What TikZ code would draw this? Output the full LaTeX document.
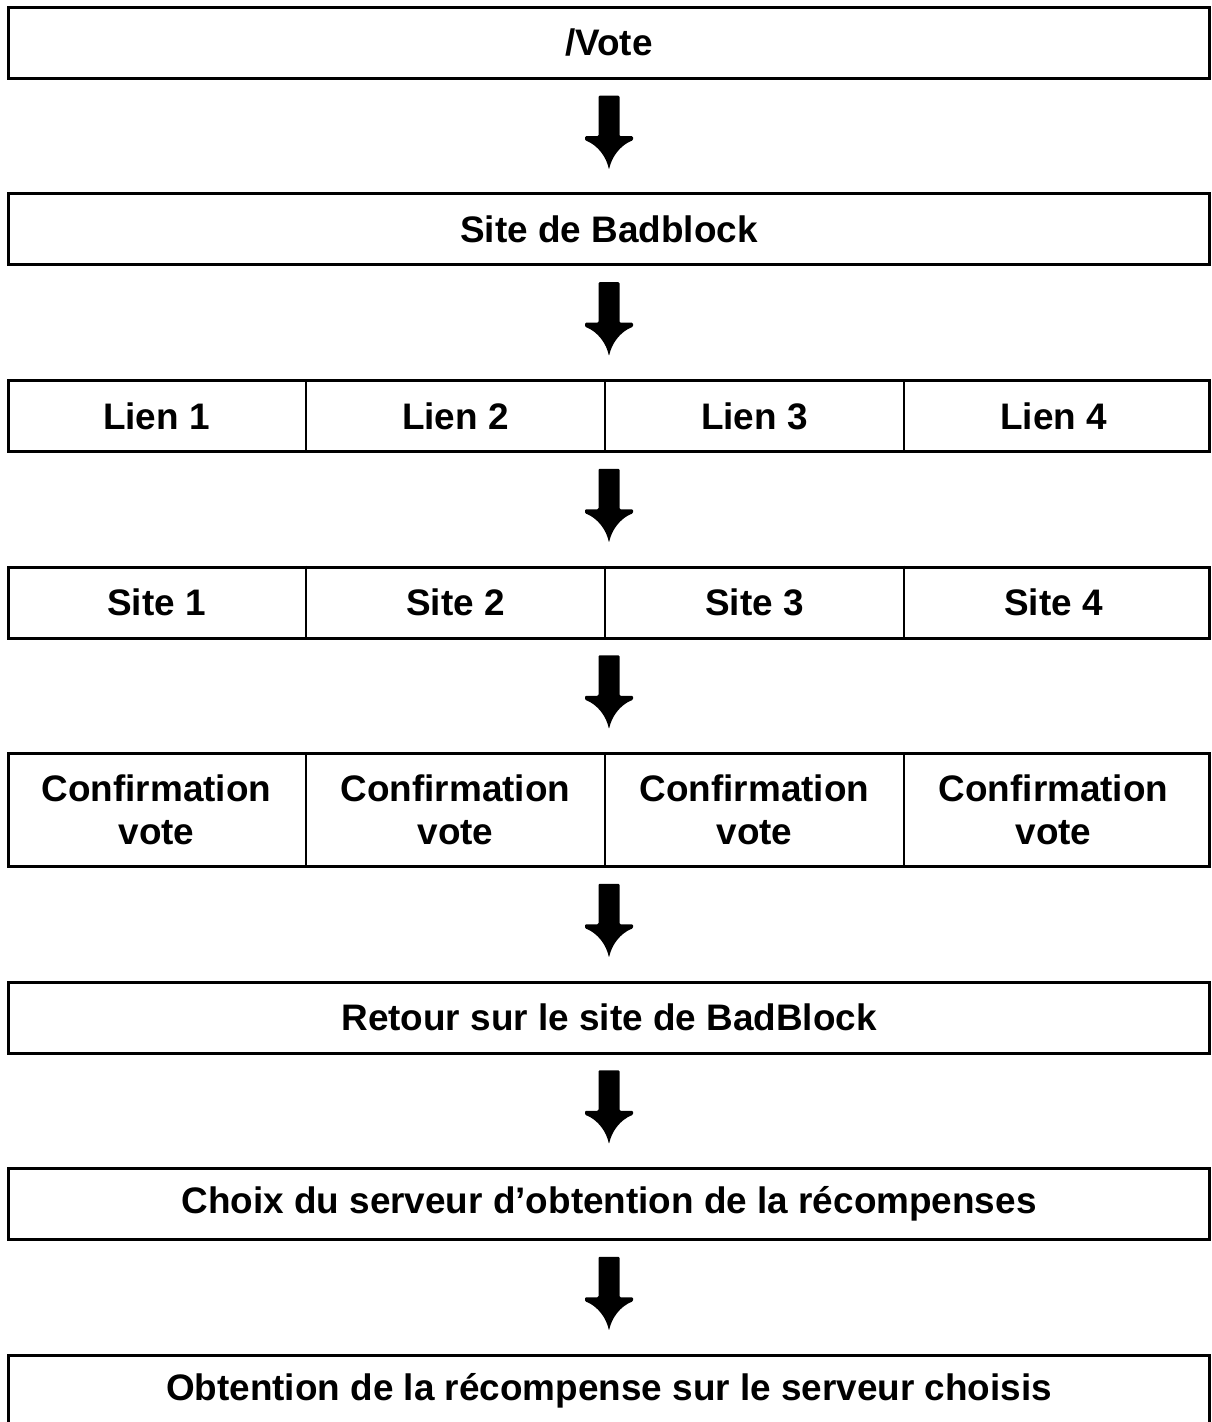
\documentclass[tikz,border=0pt]{standalone}
\usepackage{fontspec}
\setmainfont{Liberation Sans}
\usetikzlibrary{positioning, calc}

\begin{document}
\begin{tikzpicture}[node distance={2.25cm}, thick,
    box/.style = {draw, line width=0.06cm, minimum width=24.02cm, minimum height=1.42cm, inner sep=0pt, font=\bfseries\fontsize{21}{24.5}\selectfont},
    cell/.style = {align=center, inner sep=0pt, font=\bfseries\fontsize{21}{24.5}\selectfont},
    divider/.style = {line width=0.04cm},
    downarrow/.pic = {
        \fill[line join=round, rounded corners=0.6pt] (-0.21,0.81) -- (-0.21,0) -- (-0.48,0) -- (-0.48,-0.08)
            .. controls (-0.22,-0.18) and (-0.05,-0.42) .. (0,-0.67)
            .. controls (0.05,-0.42) and (0.22,-0.18) .. (0.48,-0.08)
            -- (0.48,0) -- (0.21,0) -- (0.21,0.81) -- cycle;
    }]
            \useasboundingbox (0,0) rectangle (24.22,-28.44);
            \clip (0,0) rectangle (24.22,-28.44);

            \node[box] (vote) at (12.18,-0.86) {/Vote};
            \node[box] (badblock) [below=of vote] {Site de Badblock};
            \node[box] (liens) [below=of badblock] {};
            \node[box] (sites) [below=of liens] {};
            \node[box, minimum height=2.26cm] (confirm) [below=of sites] {};
            \node[box] (retour) [below=of confirm] {Retour sur le site de BadBlock};
            \node[box] (choix) [below=of retour] {Choix du serveur d’obtention de la récompenses};
            \node[box] (obtention) [below=of choix] {Obtention de la récompense sur le serveur choisis};

            % columns
            \foreach \row in {liens, sites, confirm}
                \foreach \i in {1,2,3}
                    \draw[divider] ([xshift=\i*5.98cm]\row.north west) -- ([xshift=\i*5.98cm]\row.south west);

            \foreach \i in {1,...,4} {
                \node[cell] (lien\i) at ([xshift={(\i-0.5)*5.98cm}]liens.west) {Lien \i};
                \node[cell] (site\i) at ([xshift={(\i-0.5)*5.98cm}]sites.west) {Site \i};
                \node[cell] (confirm\i) at ([xshift={(\i-0.5)*5.98cm}]confirm.west) {Confirmation\\vote};
            }

            % arrows
            \foreach \a/\b in {vote/badblock, badblock/liens, liens/sites, sites/confirm, confirm/retour, retour/choix, choix/obtention}
                \pic at ($(\a.south)!0.5!(\b.north)$) {downarrow};
        \end{tikzpicture}
\end{document}
